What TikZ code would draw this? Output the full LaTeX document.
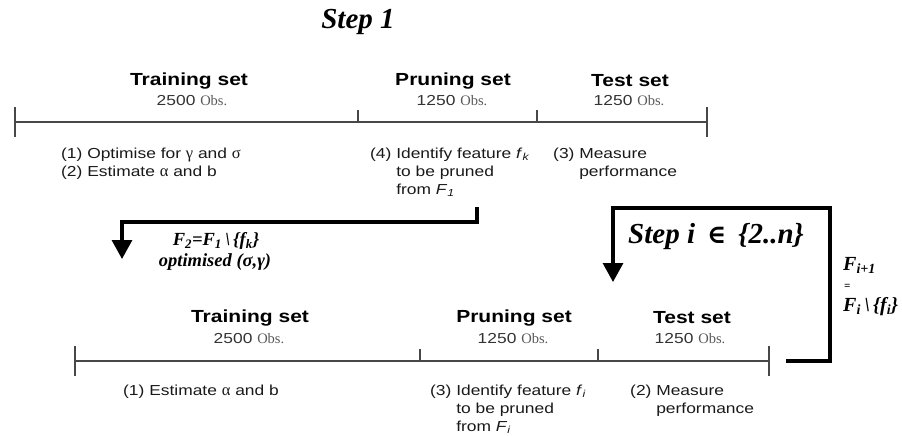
\documentclass[tikz,border=0pt]{standalone}
\usepackage{fontspec}
\setmainfont{Liberation Serif}
\newfontfamily\arial[FakeStretch=1.2]{Liberation Sans}
\newfontfamily\djs{DejaVu Serif}
\usetikzlibrary{arrows.meta}
\tikzset{
  tl/.style={line width=1.5pt, draw=black!72},
  settitle/.style={font=\arial\bfseries\fontsize{17.5}{20}\selectfont, text=black, inner sep=0pt},
  obs/.style={font=\arial\fontsize{14.5}{16}\selectfont, text=black!80, inner sep=0pt},
  desc/.style={font=\arial\fontsize{14.5}{18}\selectfont, text=black!90, anchor=base west, inner sep=0pt},
  flow/.style={line width=3.2pt, line join=miter, -{Triangle[width=20pt,length=19pt]}},
  steptxt/.style={font=\bfseries\itshape\fontsize{29}{32}\selectfont, inner sep=0pt},
  ftxt/.style={font=\bfseries\itshape\fontsize{18.5}{21}\selectfont, inner sep=0pt},
  fsmall/.style={font=\bfseries\itshape\fontsize{20}{22}\selectfont, inner sep=0pt, anchor=base west, align=left}
}
\newcommand{\obsw}{{\rmfamily\color{black!65}Obs.}}
\newcommand{\hang}[1]{\phantom{#1}}
\newcommand{\elemof}{{\djs\bfseries\fontsize{26}{28}\selectfont ∈}}
\newcommand{\grk}[1]{{\rmfamily\fontsize{16.5}{18}\selectfont #1}}
\begin{document}
\begin{tikzpicture}[x=1pt,y=-1pt]
\useasboundingbox (0,0) rectangle (902,436);

% Step 1 title
\node[steptxt] (step1) at (358,22) {Step 1};

% ---------- top timeline ----------
\coordinate (t0) at (15,122);
\coordinate (t1) at (358,122);
\coordinate (t2) at (537,122);
\coordinate (t3) at (707,122);
\draw[tl] (t0) -- (t3);
\draw[tl] ([yshift=15pt]t0) -- ([yshift=-15pt]t0);
\draw[tl] ([yshift=15pt]t3) -- ([yshift=-15pt]t3);
\draw[tl] ([yshift=12pt]t1) -- (t1);
\draw[tl] ([yshift=12pt]t2) -- (t2);

\node[settitle] (tr1) at (189,81) {Training set};
\node[obs] (tro1) at (192,101) {2500 \obsw};
\node[settitle] (pr1) at (453,81) {Pruning set};
\node[obs] (pro1) at (452,101) {1250 \obsw};
\node[settitle] (te1) at (630,81) {Test set};
\node[obs] (teo1) at (629,101) {1250 \obsw};

\node[desc] (d11) at (61,158) {\begin{tabular}[t]{@{}l@{}}(1) Optimise for \grk{γ} and \grk{σ}\\(2) Estimate \grk{α} and b\end{tabular}};
\node[desc] (d14) at (370,158) {\begin{tabular}[t]{@{}l@{}}(4) Identify feature \textit{f}\textsubscript{\textit{k}}\\\hang{(4)~}to be pruned\\\hang{(4)~}from \textit{F}\textsubscript{\textit{1}}\end{tabular}};
\node[desc] (d13) at (553,158) {\begin{tabular}[t]{@{}l@{}}(3) Measure\\\hang{(3)~}performance\end{tabular}};

% ---------- arrow 1 ----------
\coordinate (a1s) at (477,207);
\coordinate (a1c) at (122,222);
\coordinate (a1e) at (122,259);
\draw[flow] (a1s) |- (a1c) -- (a1e);
\node[ftxt] (f2) at (216,241) {F\textsubscript{2}=F\textsubscript{1}\,\textbackslash\,\{f\textsubscript{k}\}};
\node[ftxt] (opt) at (215,262) {optimised ({\rmfamily σ},{\rmfamily γ})};

% ---------- bottom timeline ----------
\coordinate (b0) at (75,361);
\coordinate (b1) at (420,361);
\coordinate (b2) at (598,361);
\coordinate (b3) at (769,361);
\draw[tl] (b0) -- (b3);
\draw[tl] ([yshift=15pt]b0) -- ([yshift=-15pt]b0);
\draw[tl] ([yshift=15pt]b3) -- ([yshift=-15pt]b3);
\draw[tl] ([yshift=12pt]b1) -- (b1);
\draw[tl] ([yshift=12pt]b2) -- (b2);

\node[settitle] (tr2) at (250,318) {Training set};
\node[obs] (tro2) at (249,339) {2500 \obsw};
\node[settitle] (pr2) at (514,318) {Pruning set};
\node[obs] (pro2) at (513,339) {1250 \obsw};
\node[settitle] (te2) at (692,318) {Test set};
\node[obs] (teo2) at (690,339) {1250 \obsw};

\node[desc] (d21) at (123,395) {(1) Estimate \grk{α} and b};
\node[desc] (d23) at (430,395) {\begin{tabular}[t]{@{}l@{}}(3) Identify feature \textit{f}\textsubscript{\textit{i}}\\\hang{(3)~}to be pruned\\\hang{(3)~}from \textit{F}\textsubscript{\textit{i}}\end{tabular}};
\node[desc] (d22) at (630,395) {\begin{tabular}[t]{@{}l@{}}(2) Measure\\\hang{(2)~}performance\end{tabular}};

% ---------- arrow 2 ----------
\coordinate (a2s) at (786,361);
\coordinate (a2r) at (830,208);
\coordinate (a2e) at (613,282);
\draw[flow] (a2s) -| (a2r) -| (a2e);
\node[steptxt] (stepi) at (716,237) {Step i\, \elemof{}\, \{2..n\}};

\node[fsmall] (fi1) at (843,270) {F\textsubscript{i+1}};
\node[fsmall] (feq) at (844,289) {\fontsize{11}{12}\selectfont =};
\node[fsmall] (fi) at (843,311) {F\textsubscript{i}\,\textbackslash\,\{f\textsubscript{i}\}};
\end{tikzpicture}
\end{document}
